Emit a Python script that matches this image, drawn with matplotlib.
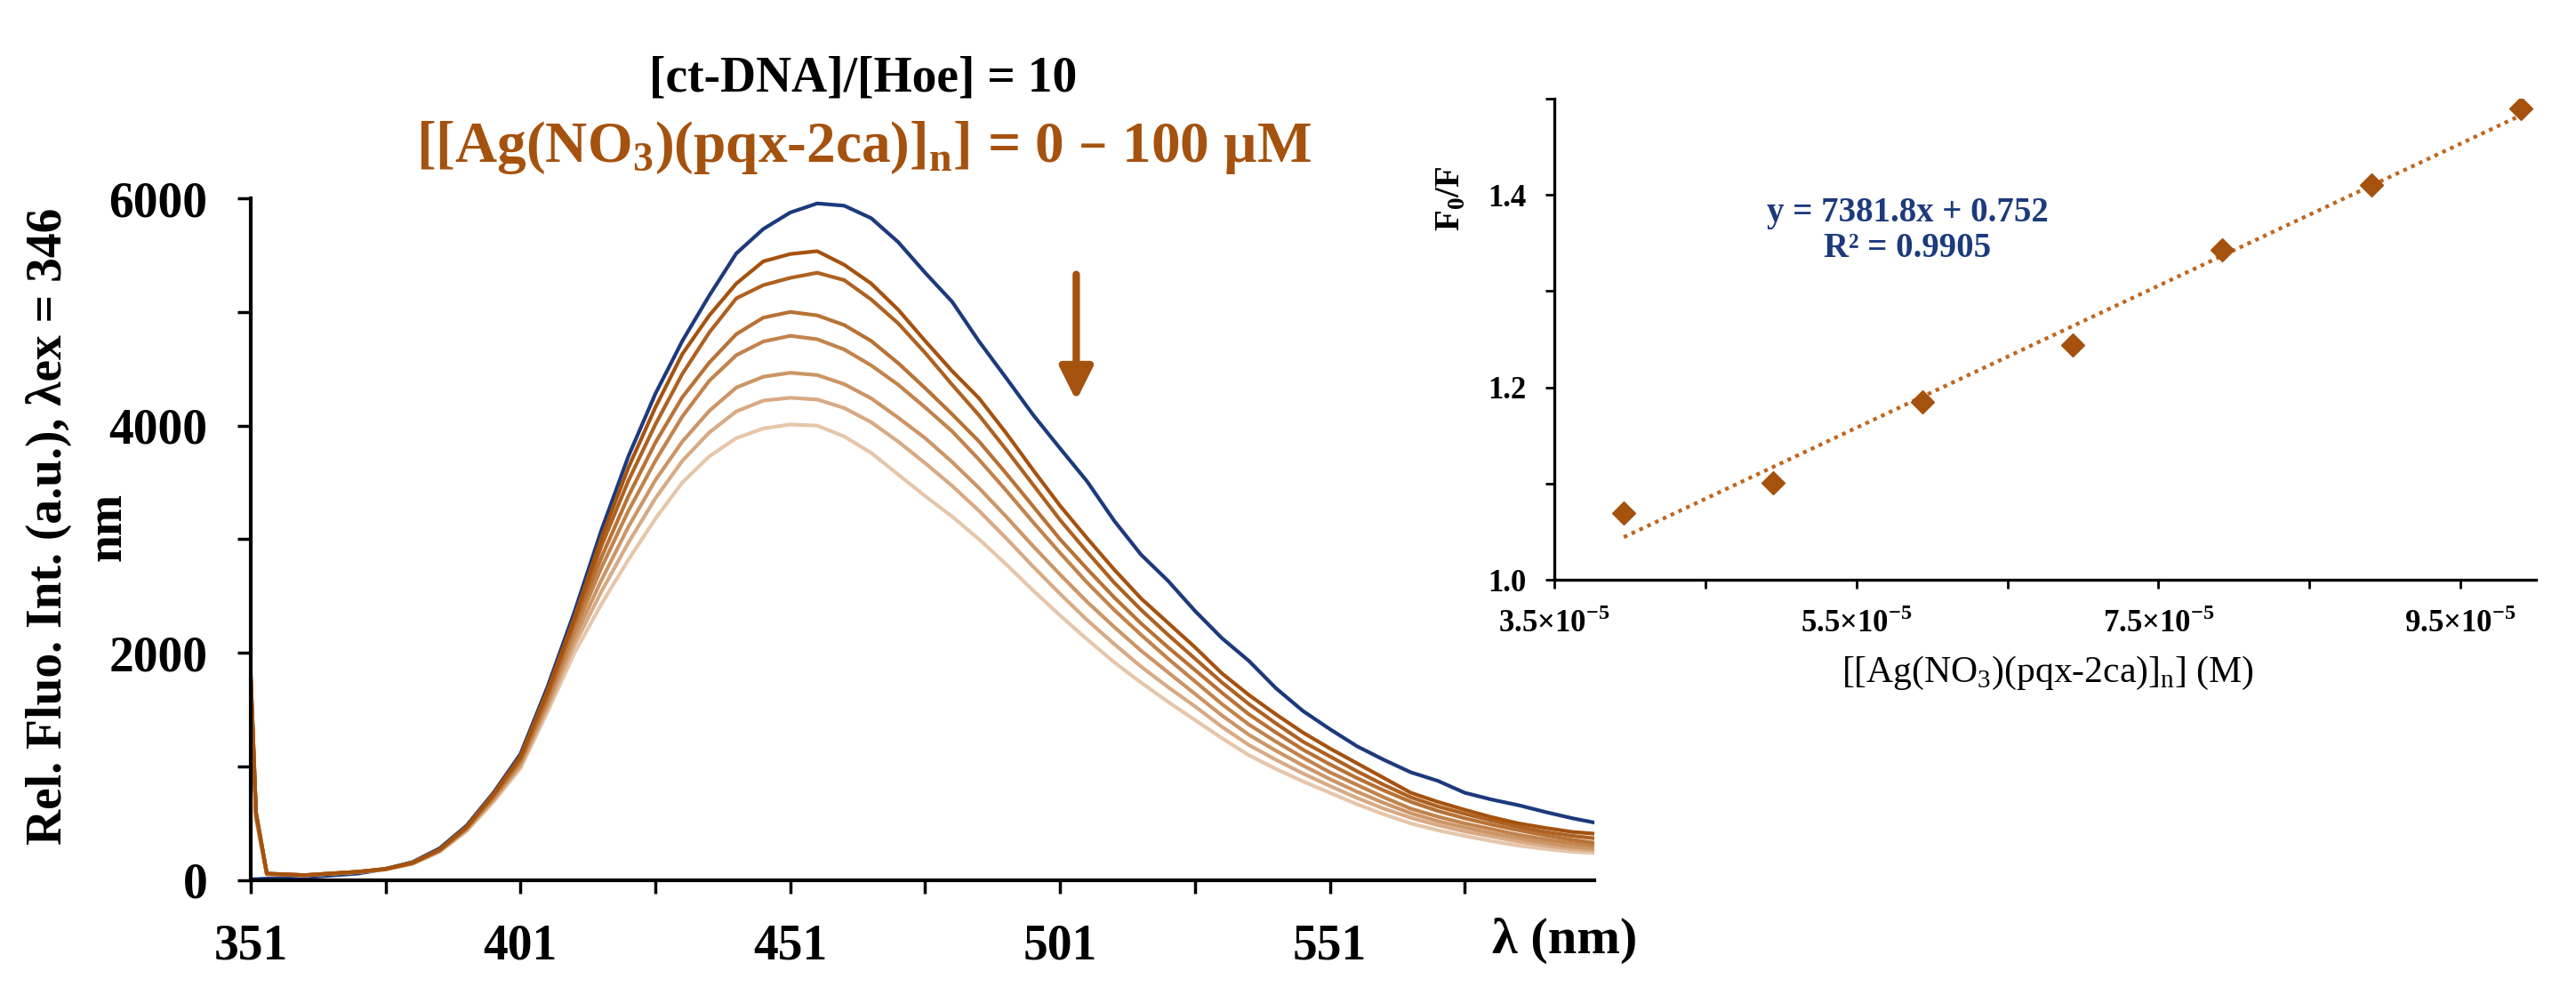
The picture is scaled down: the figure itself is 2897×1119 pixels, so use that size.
import matplotlib.pyplot as plt
import matplotlib.ticker as mticker
import numpy as np

plt.rcParams['font.family'] = ['Liberation Serif', 'DejaVu Serif']

# emission spectra
wavelength = [351, 352, 354, 361, 371, 376, 381, 386, 391, 396, 401, 406,
              411, 416, 421, 426, 431, 436, 441, 446, 451, 456, 461, 466, 471, 476, 481,
              486, 491, 496, 501, 506, 511, 516, 521, 526, 531, 536, 541, 546, 551, 556,
              561, 566, 571, 576, 581, 586, 591, 596, 600]

ctdna_hoe = [10, 10, 15, 25, 60, 100, 160, 280, 480, 770, 1110, 1700,
             2360, 3080, 3730, 4280, 4745, 5145, 5515, 5730, 5875, 5955, 5935, 5825, 5615, 5345, 5090,
             4740, 4420, 4095, 3800, 3510, 3165, 2865, 2635, 2370, 2130, 1930, 1690, 1490, 1330, 1180,
             1060, 950, 875, 770, 710, 660, 600, 545, 508]

ag_1 = [1830, 600, 60, 45, 75, 100, 155, 270, 470, 760, 1090, 1670,
        2310, 3010, 3630, 4160, 4630, 4970, 5250, 5445, 5510, 5535, 5415, 5250, 5020, 4745, 4480,
        4240, 3935, 3610, 3295, 3010, 2735, 2480, 2265, 2050, 1820, 1630, 1460, 1300, 1160, 1030,
        900, 770, 690, 620, 555, 500, 460, 425, 410]
ag_2 = [1820, 590, 58, 45, 75, 100, 155, 268, 465, 750, 1075, 1640,
        2280, 2940, 3515, 4010, 4455, 4820, 5120, 5236, 5300, 5345, 5280, 5110, 4900, 4640, 4360,
        4090, 3790, 3480, 3170, 2890, 2620, 2380, 2160, 1950, 1740, 1550, 1380, 1220, 1090, 960,
        840, 730, 650, 585, 525, 470, 425, 390, 370]
ag_3 = [1810, 580, 57, 45, 75, 100, 153, 265, 460, 740, 1060, 1610,
        2250, 2840, 3380, 3850, 4250, 4555, 4805, 4950, 5000, 4970, 4885, 4745, 4550, 4330, 4100,
        3860, 3580, 3290, 3000, 2740, 2490, 2260, 2050, 1850, 1650, 1460, 1300, 1150, 1020, 900,
        790, 690, 610, 545, 490, 440, 395, 355, 330]
ag_4 = [1800, 570, 56, 44, 75, 98, 150, 262, 455, 730, 1045, 1580,
        2190, 2750, 3250, 3690, 4080, 4395, 4620, 4740, 4790, 4760, 4670, 4530, 4360, 4160, 3950,
        3700, 3430, 3150, 2880, 2620, 2380, 2160, 1950, 1750, 1550, 1370, 1220, 1080, 950, 840,
        730, 630, 560, 500, 450, 400, 360, 325, 305]
ag_5 = [1790, 560, 55, 44, 74, 97, 148, 258, 448, 718, 1025, 1550,
        2130, 2640, 3110, 3520, 3860, 4130, 4335, 4430, 4465, 4445, 4365, 4240, 4070, 3890, 3680,
        3450, 3200, 2940, 2690, 2450, 2230, 2020, 1830, 1640, 1450, 1280, 1140, 1010, 890, 780,
        680, 590, 520, 465, 415, 370, 330, 295, 280]
ag_6 = [1780, 550, 54, 43, 73, 96, 146, 254, 440, 705, 1005, 1515,
        2070, 2540, 2970, 3360, 3690, 3940, 4125, 4220, 4245, 4230, 4155, 4030, 3860, 3670, 3470,
        3250, 3010, 2760, 2520, 2290, 2080, 1880, 1700, 1530, 1350, 1190, 1060, 940, 830, 725,
        630, 550, 485, 430, 385, 340, 305, 275, 262]
ag_7 = [1770, 540, 53, 43, 72, 95, 144, 250, 432, 690, 985, 1480,
        2000, 2430, 2820, 3180, 3500, 3730, 3890, 3975, 4010, 4000, 3905, 3760, 3570, 3380, 3200,
        3000, 2780, 2550, 2330, 2120, 1920, 1740, 1570, 1410, 1250, 1100, 980, 870, 770, 670,
        580, 500, 440, 390, 345, 305, 275, 250, 240]

# Stern-Volmer plot
conc_M = [3.96e-5, 4.95e-5, 5.94e-5, 6.93e-5, 7.92e-5, 8.91e-5, 9.90e-5]
f0_f = [1.069, 1.101, 1.185, 1.244, 1.343, 1.410, 1.490]
fit_slope = 7381.8
fit_intercept = 0.752

x_ticks_right = [3.5e-5, 5.5e-5, 7.5e-5, 9.5e-5]
x_tick_labels_right = ['3.5×10$^{\\mathregular{−5}}$', '5.5×10$^{\\mathregular{−5}}$',
                       '7.5×10$^{\\mathregular{−5}}$', '9.5×10$^{\\mathregular{−5}}$']

navy = '#1C3A7C'
brown = '#A5520F'
ag_colors = ['#A5520F', '#AE6121', '#B87235', '#C2834C', '#CC9566', '#D8AA84', '#E6C6AA']

fig = plt.figure(figsize=(28.97, 11.19), dpi=100)

# ---------- left: spectra ----------
ax = fig.add_axes([0.0973, 0.1153, 0.5216, 0.6854])
ax.plot(wavelength, ctdna_hoe, color=navy, lw=3.0)
ag_all = [ag_1, ag_2, ag_3, ag_4, ag_5, ag_6, ag_7]
for spec, col in reversed(list(zip(ag_all, ag_colors))):
    ax.plot(wavelength, spec, color=col, lw=3.0)

ax.set_xlim(351, 600)
ax.set_ylim(0, 6000)
ax.xaxis.set_major_locator(mticker.FixedLocator([351, 401, 451, 501, 551]))
ax.xaxis.set_minor_locator(mticker.FixedLocator([376, 426, 476, 526, 576]))
ax.yaxis.set_major_locator(mticker.FixedLocator([0, 2000, 4000, 6000]))
ax.yaxis.set_minor_locator(mticker.FixedLocator([1000, 3000, 5000]))
for s in ['top', 'right']:
    ax.spines[s].set_visible(False)
for s in ['left', 'bottom']:
    ax.spines[s].set_linewidth(3)
ax.tick_params(which='both', direction='out', length=11, width=2.5, pad=24)
ax.tick_params(which='major', labelsize=40)
for lab in ax.get_xticklabels() + ax.get_yticklabels():
    lab.set_fontweight('bold')

ax.annotate('', xy=(504, 4220), xytext=(504, 5330),
            arrowprops=dict(arrowstyle='-|>,head_length=0.9,head_width=0.45',
                            mutation_scale=25, color=brown, lw=6,
                            shrinkA=0, shrinkB=0))

fig.text(0.6075, 0.0545, 'λ (nm)', fontsize=42, fontweight='bold',
         ha='center', va='center')
# y label: two separate lines as in the reference
fig.text(0.019, 0.471, 'Rel. Fluo. Int. (a.u.), λex = 346', fontsize=40,
         fontweight='bold', rotation=90, ha='center', va='center')
fig.text(0.042, 0.471, 'nm', fontsize=40, fontweight='bold', rotation=90,
         ha='center', va='center')
fig.text(0.3352, 0.9205, '[ct-DNA]/[Hoe] = 10', fontsize=40, fontweight='bold',
         ha='center', va='center')
fig.text(0.3352, 0.8517,
         '[[Ag(NO$_\\mathregular{3}$)(pqx-2ca)]$_\\mathregular{n}$] = 0 – 100 µM',
         fontsize=47, fontweight='bold', color=brown, ha='center', va='center')

# ---------- right: F0/F vs concentration ----------
ax2 = fig.add_axes([0.6034, 0.4173, 0.3811, 0.4835])
xs = np.array([conc_M[0], conc_M[-1]])
ax2.plot(xs, fit_slope * xs + fit_intercept, color='#C0661E', lw=3.1,
         linestyle=(0, (1, 1.25)))
ax2.plot(conc_M, f0_f, linestyle='none', marker='D', markersize=13,
         color=brown)
ax2.set_xlim(3.5e-5, 1.0e-4)
ax2.set_ylim(1.0, 1.5)
ax2.xaxis.set_major_locator(mticker.FixedLocator(x_ticks_right))
ax2.xaxis.set_major_formatter(mticker.FixedFormatter(x_tick_labels_right))
ax2.xaxis.set_minor_locator(mticker.FixedLocator([4.5e-5, 6.5e-5, 8.5e-5]))
ax2.yaxis.set_major_locator(mticker.FixedLocator([1.0, 1.2, 1.4]))
ax2.yaxis.set_major_formatter(mticker.FormatStrFormatter('%.1f'))
ax2.yaxis.set_minor_locator(mticker.FixedLocator([1.1, 1.3, 1.5]))
for s in ['top', 'right']:
    ax2.spines[s].set_visible(False)
for s in ['left', 'bottom']:
    ax2.spines[s].set_linewidth(2.4)
ax2.tick_params(which='both', direction='out', length=7, width=2, pad=16)
ax2.tick_params(which='major', labelsize=25)
for lab in ax2.get_xticklabels() + ax2.get_yticklabels():
    lab.set_fontweight('bold')

ax2.text(0.36, 0.725, 'y = 7381.8x + 0.752\nR² = 0.9905', transform=ax2.transAxes,
         fontsize=28, fontweight='bold', color=navy, ha='center', va='center',
         multialignment='center', linespacing=1.1)
fig.text(0.5634, 0.8007, 'F$_\\mathregular{0}$/F', fontsize=28, fontweight='bold',
         rotation=90, ha='center', va='center')
fig.text(0.7948, 0.3235, '[[Ag(NO$_\\mathregular{3}$)(pqx-2ca)]$_\\mathregular{n}$] (M)',
         fontsize=30, ha='center', va='center')

fig.savefig('out.png', dpi=100)
